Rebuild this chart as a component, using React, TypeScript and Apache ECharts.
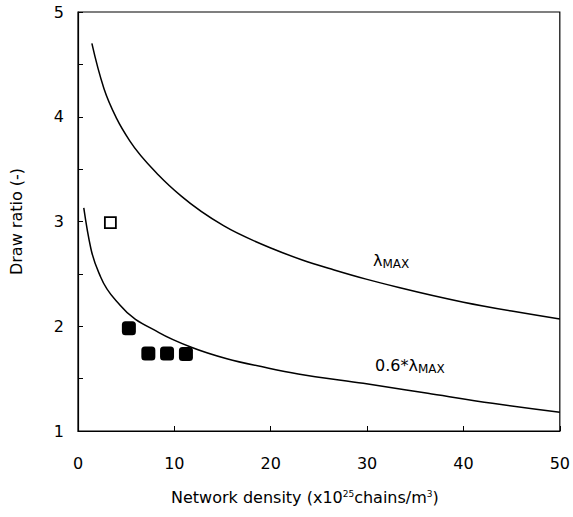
import React, { useEffect, useRef } from "react";
import * as echarts from "echarts";

const upperX = [1.44, 2.69, 4.03, 5.37, 8.4, 10.75, 15.1, 20.2, 23.2, 26.5, 29.9, 33.3, 40.0, 45.0, 50.0];
const upperY = [4.70, 4.27, 3.98, 3.77, 3.44, 3.24, 2.96, 2.74, 2.635, 2.54, 2.45, 2.37, 2.23, 2.145, 2.07];
const lowerX = [0.6, 1.34, 2.35, 4.37, 8.4, 11.76, 15.45, 19.8, 22.85, 29.6, 36.3, 43.0, 50.0];
const lowerY = [3.13, 2.74, 2.47, 2.20, 1.94, 1.80, 1.69, 1.60, 1.545, 1.455, 1.36, 1.265, 1.18];
const openX = [3.36];
const openY = [2.99];
const filledX = [5.28, 7.3, 9.24, 11.2];
const filledY = [1.98, 1.74, 1.74, 1.735];

const FONT = "'DejaVu Sans', 'Liberation Sans', Arial, sans-serif";
const INK = "#000";

// Smooth cubic path through pixel points (x strictly increasing)
function splinePath(pts: number[][]): string {
  const n = pts.length;
  const h: number[] = [];
  const d: number[] = [];
  for (let i = 0; i < n - 1; i++) {
    h.push(pts[i + 1][0] - pts[i][0]);
    d.push((pts[i + 1][1] - pts[i][1]) / h[i]);
  }
  const m: number[] = new Array(n).fill(0);
  for (let i = 1; i < n - 1; i++) {
    if (d[i - 1] * d[i] <= 0) { m[i] = 0; continue; }
    let v = (h[i] * d[i - 1] + h[i - 1] * d[i]) / (h[i - 1] + h[i]);
    const lim = 3 * Math.min(Math.abs(d[i - 1]), Math.abs(d[i]));
    if (Math.abs(v) > lim) v = Math.sign(v) * lim;
    m[i] = v;
  }
  if (n > 2) {
    let v0 = ((2 * h[0] + h[1]) * d[0] - h[0] * d[1]) / (h[0] + h[1]);
    if (v0 * d[0] <= 0) v0 = 0;
    else if (Math.abs(v0) > 3 * Math.abs(d[0])) v0 = 3 * d[0];
    m[0] = v0;
    const k = n - 2;
    let vn = ((2 * h[k] + h[k - 1]) * d[k] - h[k] * d[k - 1]) / (h[k] + h[k - 1]);
    if (vn * d[k] <= 0) vn = 0;
    else if (Math.abs(vn) > 3 * Math.abs(d[k])) vn = 3 * d[k];
    m[n - 1] = vn;
  } else {
    m[0] = d[0];
    m[1] = d[0];
  }
  let s = `M${pts[0][0]},${pts[0][1]}`;
  for (let i = 0; i < n - 1; i++) {
    const [x0, y0] = pts[i];
    const [x1, y1] = pts[i + 1];
    const t = h[i] / 3;
    s += ` C${x0 + t},${y0 + m[i] * t} ${x1 - t},${y1 - m[i + 1] * t} ${x1},${y1}`;
  }
  return s;
}

export default function App() {
  const ref = useRef<HTMLDivElement>(null);
  useEffect(() => {
    if (!ref.current) return;
    const chart = echarts.init(ref.current, null, { renderer: "svg" });
    const zip = (xs: number[], ys: number[]) => xs.map((x, i) => [x, ys[i]]);
    const curveSeries = (xs: number[], ys: number[]) => ({
      type: "custom",
      silent: true,
      data: [[xs[0], ys[0]]],
      renderItem: (_params: any, api: any) => {
        const pts = xs.map((x, i) => api.coord([x, ys[i]]));
        return {
          type: "path",
          shape: { pathData: splinePath(pts) },
          style: { stroke: INK, fill: "none", lineWidth: 1.5 },
        };
      },
    });
    chart.setOption({
      animation: false,
      backgroundColor: "#fff",
      textStyle: { fontFamily: FONT, color: INK },
      grid: {
        left: 70,
        right: 8,
        top: 12,
        bottom: 86,
        show: true,
        borderColor: INK,
        borderWidth: 1.2,
        backgroundColor: "transparent",
      },
      xAxis: {
        type: "value",
        min: 0,
        max: 50,
        interval: 10,
        name: "Network density (x10{sup|25}chains/m{sup|3})",
        nameLocation: "middle",
        nameGap: 58,
        nameTextStyle: {
          fontFamily: FONT,
          fontSize: 16,
          color: INK,
          padding: [0, 28, 0, 0],
          rich: { sup: { fontSize: 9, verticalAlign: "top", padding: [0, 0, 7, 0], fontFamily: FONT, color: INK } },
        },
        axisLine: { lineStyle: { color: INK, width: 1.2 } },
        axisTick: { inside: true, length: 5, lineStyle: { color: INK } },
        axisLabel: { fontSize: 16, color: INK, margin: 24, fontFamily: FONT },
        splitLine: { show: false },
      },
      yAxis: {
        type: "value",
        min: 1,
        max: 5,
        interval: 1,
        name: "Draw ratio (-)",
        nameLocation: "middle",
        nameGap: 54,
        nameTextStyle: { fontFamily: FONT, fontSize: 16, color: INK },
        axisLine: { lineStyle: { color: INK, width: 1.2 } },
        axisTick: { inside: true, length: 5, lineStyle: { color: INK } },
        minorTick: { show: true, splitNumber: 2, length: 5, lineStyle: { color: INK } },
        axisLabel: { fontSize: 16, color: INK, margin: 14, fontFamily: FONT },
        splitLine: { show: false },
      },
      series: [
        curveSeries(upperX, upperY),
        curveSeries(lowerX, lowerY),
        {
          type: "scatter",
          data: zip(openX, openY),
          symbol: "rect",
          symbolSize: 11,
          itemStyle: { color: "#fff", borderColor: INK, borderWidth: 1.8, opacity: 1 },
        },
        {
          type: "scatter",
          data: zip(filledX, filledY),
          symbol: "roundRect",
          symbolSize: 14,
          itemStyle: { color: INK, opacity: 1 },
        },
      ],
      graphic: [
        {
          type: "text",
          left: 373,
          top: 252,
          style: {
            text: "λ{sub|MAX}",
            font: `16px ${FONT}`,
            fill: INK,
            rich: { sub: { fontSize: 12, fontFamily: FONT, fill: INK, padding: [8, 0, 0, 0] } },
          },
        },
        {
          type: "text",
          left: 375,
          top: 357,
          style: {
            text: "0.6*λ{sub|MAX}",
            font: `16px ${FONT}`,
            fill: INK,
            rich: { sub: { fontSize: 12, fontFamily: FONT, fill: INK, padding: [8, 0, 0, 0] } },
          },
        },
      ],
    });
    return () => chart.dispose();
  }, []);
  return (
    <div
      ref={ref}
      style={{ position: "fixed", left: 0, top: 0, width: 573, height: 517 }}
    />
  );
}
